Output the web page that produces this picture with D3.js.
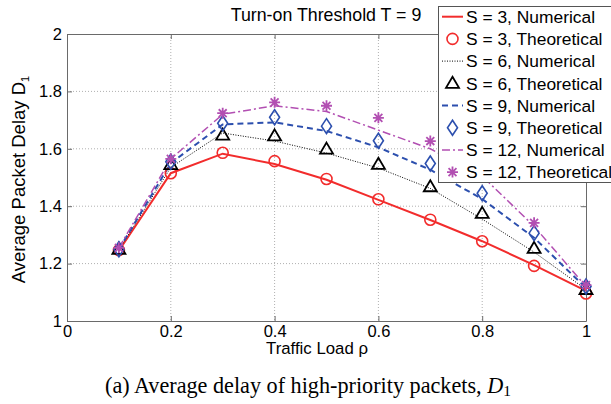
<!DOCTYPE html>
<html>
<head>
<meta charset="utf-8">
<script src="https://cdn.jsdelivr.net/npm/d3@7"></script>
<style>
  body { margin: 0; background: #fff; }
  text { font-family: "Liberation Sans", Arial, sans-serif; }
</style>
</head>
<body>
<script>
(function(){
    // data
    var loads = [0.1, 0.2, 0.3, 0.4, 0.5, 0.6, 0.7, 0.8, 0.9, 1.0];
    var s3Num   = [1.245, 1.515, 1.583, 1.547, 1.492, 1.422, 1.352, 1.278, 1.195, 1.105];
    var s3Theo  = [1.247, 1.515, 1.586, 1.557, 1.495, 1.424, 1.353, 1.278, 1.192, 1.096];
    var s6Num   = [1.248, 1.535, 1.655, 1.627, 1.585, 1.533, 1.462, 1.355, 1.240, 1.110];
    var s6Theo  = [1.250, 1.545, 1.648, 1.645, 1.599, 1.546, 1.468, 1.375, 1.253, 1.110];
    var s9Num   = [1.250, 1.550, 1.685, 1.692, 1.662, 1.605, 1.527, 1.425, 1.290, 1.115];
    var s9Theo  = [1.250, 1.555, 1.689, 1.710, 1.679, 1.628, 1.549, 1.445, 1.306, 1.120];
    var s12Num  = [1.255, 1.565, 1.720, 1.750, 1.730, 1.665, 1.600, 1.505, 1.330, 1.120];
    var s12Theo = [1.255, 1.565, 1.724, 1.762, 1.750, 1.708, 1.627, 1.540, 1.342, 1.125];
    var xTicks = [0, 0.2, 0.4, 0.6, 0.8, 1];
    var yTicks = [1, 1.2, 1.4, 1.6, 1.8, 2];
    var legendLabels = ["S = 3, Numerical", "S = 3, Theoretical", "S = 6, Numerical", "S = 6, Theoretical",
                        "S = 9, Numerical", "S = 9, Theoretical", "S = 12, Numerical", "S = 12, Theoretical"];

    var red = "#f22c2c", blue = "#2c4fae", magenta = "#b24fb2", black = "#000";

    var width = 611, height = 404;
    var left = 67, right = 586, top = 34, bottom = 321;

    var svg = d3.select("body").append("svg")
        .attr("width", width)
        .attr("height", height);

    var x = d3.scaleLinear().domain([0, 1]).range([left, right]);
    var y = d3.scaleLinear().domain([1, 2]).range([bottom, top]);

    // grid
    var grid = svg.append("g").attr("class", "grid");
    grid.selectAll(".vgrid")
        .data(xTicks.slice(1, -1))
        .enter().append("line")
        .attr("x1", d => x(d)).attr("x2", d => x(d))
        .attr("y1", top).attr("y2", bottom)
        .attr("stroke", "#b0b0b0").attr("stroke-width", 1)
        .attr("stroke-dasharray", "1,2");
    grid.selectAll(".hgrid")
        .data(yTicks.slice(1, -1))
        .enter().append("line")
        .attr("x1", left).attr("x2", right)
        .attr("y1", d => y(d)).attr("y2", d => y(d))
        .attr("stroke", "#b0b0b0").attr("stroke-width", 1)
        .attr("stroke-dasharray", "1,2");

    // axes, matlab style: ticks inside on all four sides
    var axisColor = "#6a6a6a";
    var xAxis = svg.append("g")
        .attr("transform", "translate(0," + bottom + ")")
        .call(d3.axisBottom(x).tickValues(xTicks).tickSizeInner(-5).tickSizeOuter(0).tickPadding(4)
            .tickFormat(d3.format("")));
    var xAxisTop = svg.append("g")
        .attr("transform", "translate(0," + top + ")")
        .call(d3.axisTop(x).tickValues(xTicks).tickSizeInner(-5).tickSizeOuter(0).tickFormat(""));
    var yAxis = svg.append("g")
        .attr("transform", "translate(" + left + ",0)")
        .call(d3.axisLeft(y).tickValues(yTicks).tickSizeInner(-5).tickSizeOuter(0).tickPadding(5)
            .tickFormat(d3.format("")));
    var yAxisRight = svg.append("g")
        .attr("transform", "translate(" + right + ",0)")
        .call(d3.axisRight(y).tickValues(yTicks).tickSizeInner(-5).tickSizeOuter(0).tickFormat(""));

    [xAxis, xAxisTop, yAxis, yAxisRight].forEach(function(g){
        g.select(".domain").attr("stroke", axisColor);
        g.selectAll(".tick line").attr("stroke", axisColor);
        g.selectAll(".tick text")
            .attr("fill", "#000")
            .style("font-family", "'Liberation Sans', Arial, sans-serif")
            .style("font-size", "16.5px");
    });

    // series
    var series = [
        {num: s3Num,  theo: s3Theo,  color: red,     width: 2,   dash: null,      marker: "circle"},
        {num: s6Num,  theo: s6Theo,  color: black,   width: 1,   dash: "1,1.5",   marker: "triangle"},
        {num: s9Num,  theo: s9Theo,  color: blue,    width: 2,   dash: "6,4",     marker: "diamond"},
        {num: s12Num, theo: s12Theo, color: magenta, width: 1.5, dash: "8,3,2,3", marker: "star"}
    ];

    var line = d3.line()
        .x((d, i) => x(loads[i]))
        .y(d => y(d));

    var plot = svg.append("g").attr("class", "plot");

    series.forEach(function(s){
        plot.append("path")
            .datum(s.num)
            .attr("d", line)
            .attr("fill", "none")
            .attr("stroke", s.color)
            .attr("stroke-width", s.width)
            .attr("stroke-dasharray", s.dash);
    });

    function drawMarker(g, type, cx, cy, color){
        if (type === "circle"){
            g.append("circle")
                .attr("cx", cx).attr("cy", cy).attr("r", 5.5)
                .attr("fill", "none").attr("stroke", color).attr("stroke-width", 1.6);
        } else if (type === "triangle"){
            var r = 6.5;
            g.append("path")
                .attr("d", "M" + cx + "," + (cy - r) + "L" + (cx + r) + "," + (cy + r * 0.7) +
                      "L" + (cx - r) + "," + (cy + r * 0.7) + "Z")
                .attr("fill", "none").attr("stroke", color).attr("stroke-width", 1.8);
        } else if (type === "diamond"){
            var w = 5, h = 7.5;
            g.append("path")
                .attr("d", "M" + cx + "," + (cy - h) + "L" + (cx + w) + "," + cy +
                      "L" + cx + "," + (cy + h) + "L" + (cx - w) + "," + cy + "Z")
                .attr("fill", "none").attr("stroke", color).attr("stroke-width", 1.6);
        } else if (type === "star"){
            var a = 5.5, b = a * 0.72;
            var p = "M" + (cx - a) + "," + cy + "L" + (cx + a) + "," + cy +
                    "M" + cx + "," + (cy - a) + "L" + cx + "," + (cy + a) +
                    "M" + (cx - b) + "," + (cy - b) + "L" + (cx + b) + "," + (cy + b) +
                    "M" + (cx - b) + "," + (cy + b) + "L" + (cx + b) + "," + (cy - b);
            g.append("path")
                .attr("d", p)
                .attr("fill", "none").attr("stroke", color).attr("stroke-width", 1.8);
        }
    }

    series.forEach(function(s){
        s.theo.forEach(function(v, i){
            drawMarker(plot, s.marker, x(loads[i]), y(v), s.color);
        });
    });

    // title
    svg.append("text")
        .attr("x", 326).attr("y", 21)
        .attr("text-anchor", "middle")
        .style("font-size", "17.8px")
        .text("Turn-on Threshold T = 9");

    // axis labels
    svg.append("text")
        .attr("x", 317).attr("y", 354)
        .attr("text-anchor", "middle")
        .style("font-size", "16.8px")
        .text("Traffic Load \u03c1");

    var ylab = svg.append("text")
        .attr("transform", "translate(25," + ((top + bottom) / 2 + 2) + ") rotate(-90)")
        .attr("text-anchor", "middle")
        .style("font-size", "18.5px");
    ylab.append("tspan").text("Average Packet Delay D");
    ylab.append("tspan").attr("dy", 4).style("font-size", "11px").text("1");

    // legend
    var lg = svg.append("g").attr("class", "legend");
    lg.append("rect")
        .attr("x", 438.5).attr("y", 6.5)
        .attr("width", 200).attr("height", 176)
        .attr("fill", "#fff").attr("stroke", "#555").attr("stroke-width", 1);

    legendLabels.forEach(function(label, i){
        var s = series[Math.floor(i / 2)];
        var cy = 16.7 + i * 22.2;
        if (i % 2 === 0){
            lg.append("line")
                .attr("x1", 442).attr("x2", 463)
                .attr("y1", cy).attr("y2", cy)
                .attr("stroke", s.color)
                .attr("stroke-width", s.width)
                .attr("stroke-dasharray", s.dash);
        } else {
            drawMarker(lg, s.marker, 452.5, cy, s.color);
        }
        lg.append("text")
            .attr("x", 466).attr("y", cy + 6.3)
            .style("font-size", "17.4px")
            .text(label);
    });

    // caption
    var cap = svg.append("text")
        .attr("x", 105).attr("y", 393)
        .style("font-family", "'Liberation Serif', 'Times New Roman', serif")
        .style("font-size", "22.2px");
    cap.append("tspan").text("(a)  Average delay of high-priority packets,  ");
    cap.append("tspan").style("font-style", "italic").text("D");
    cap.append("tspan").attr("dy", 3).style("font-size", "15.5px").text("1");
})();
</script>
</body>
</html>
